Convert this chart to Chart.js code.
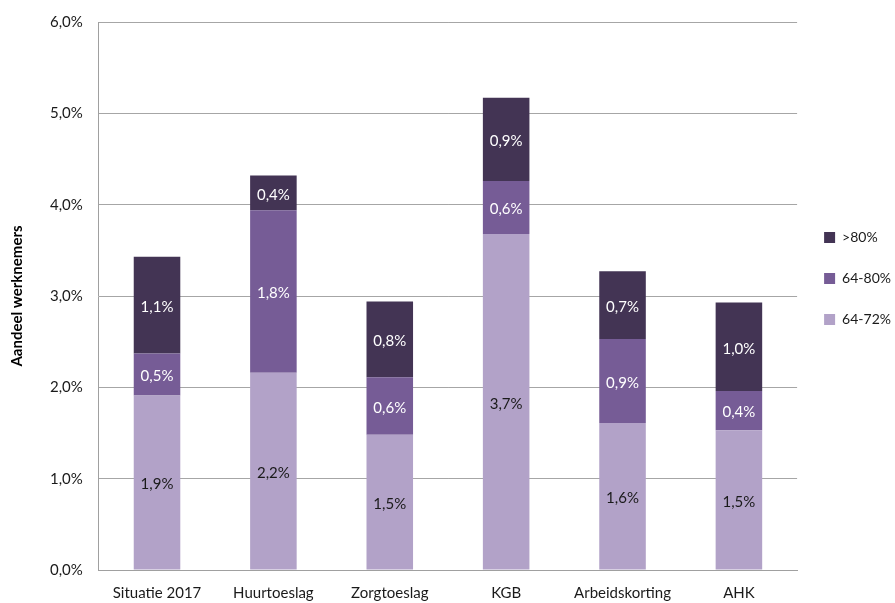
<!DOCTYPE html>
<html>
<head>
<meta charset="utf-8">
<script src="https://cdn.jsdelivr.net/npm/chart.js@4/dist/chart.umd.min.js"></script>
<style>
  html, body { margin: 0; padding: 0; background: #fff; }
  .wrap { width: 895px; height: 603px; position: relative; }
</style>
</head>
<body>
<div class="wrap"><canvas class="js-chart"></canvas></div>
<script>
const categories = ['Situatie 2017', 'Huurtoeslag', 'Zorgtoeslag', 'KGB', 'Arbeidskorting', 'AHK'];
const groep6472 = [1.91, 2.16, 1.48, 3.68, 1.61, 1.53];
const groep6480 = [0.46, 1.78, 0.63, 0.58, 0.92, 0.43];
const groep80 = [1.06, 0.38, 0.83, 0.91, 0.74, 0.97];
const yTicks = [0, 1, 2, 3, 4, 5, 6];

const FONT = 'Lato, "Open Sans", sans-serif';

function pct(v) {
    return v.toFixed(1).replace('.', ',') + '%';
}

// draws the value inside each bar segment
const segmentLabels = {
    id: 'segmentLabels',
    afterDatasetsDraw(chart) {
        const c = chart.ctx;
        c.save();
        c.font = '15px ' + FONT;
        c.textAlign = 'center';
        c.textBaseline = 'middle';
        chart.data.datasets.forEach((ds, i) => {
            chart.getDatasetMeta(i).data.forEach((bar, j) => {
                c.fillStyle = ds.labelColor;
                c.fillText(pct(ds.data[j]), bar.x, (bar.y + bar.base) / 2 + 2);
            });
        });
        c.restore();
    }
};

// legend sits a bit above the middle of the plot, like the original
const liftLegend = {
    id: 'liftLegend',
    afterLayout(chart) {
        chart.legend.top -= 32;
        chart.legend.bottom -= 32;
    }
};

const ctx = document.querySelector('.js-chart').getContext('2d');
new Chart(ctx, {
    type: 'bar',
    data: {
        labels: categories,
        datasets: [
            { label: '64-72%', data: groep6472, backgroundColor: '#b2a2c8', labelColor: '#1a1a1a' },
            { label: '64-80%', data: groep6480, backgroundColor: '#765c96', labelColor: '#ffffff' },
            { label: '>80%', data: groep80, backgroundColor: '#433454', labelColor: '#ffffff' }
        ]
    },
    options: {
        responsive: true,
        maintainAspectRatio: false,
        animation: false,
        datasets: { bar: { barPercentage: 0.4, categoryPercentage: 1 } },
        layout: { padding: { top: 5, right: -6, bottom: -13, left: 8 } },
        plugins: {
            tooltip: { enabled: false },
            legend: {
                position: 'right',
                reverse: true,
                labels: {
                    boxWidth: 11,
                    boxHeight: 11,
                    padding: 27,
                    color: '#1a1a1a',
                    font: { family: FONT, size: 14 }
                }
            }
        },
        scales: {
            x: {
                stacked: true,
                grid: { display: false, drawTicks: false },
                border: { color: '#a0a0a0' },
                ticks: { color: '#1a1a1a', padding: 14, font: { family: FONT, size: 15 } }
            },
            y: {
                stacked: true,
                min: 0,
                max: 6,
                afterBuildTicks(axis) {
                    axis.ticks = yTicks.map(v => ({ value: v }));
                },
                afterFit(axis) {
                    axis.paddingTop -= 3;
                },
                grid: { color: '#a6a6a6', drawTicks: false },
                border: { color: '#a0a0a0' },
                ticks: {
                    color: '#1a1a1a',
                    padding: 16,
                    font: { family: FONT, size: 15 },
                    callback(value) { return pct(value); }
                },
                title: {
                    display: true,
                    text: 'Aandeel werknemers',
                    color: '#000',
                    padding: { top: 0, bottom: 8 },
                    font: { family: FONT, size: 15, weight: 'bold' }
                }
            }
        }
    },
    plugins: [segmentLabels, liftLegend]
});
</script>
</body>
</html>
